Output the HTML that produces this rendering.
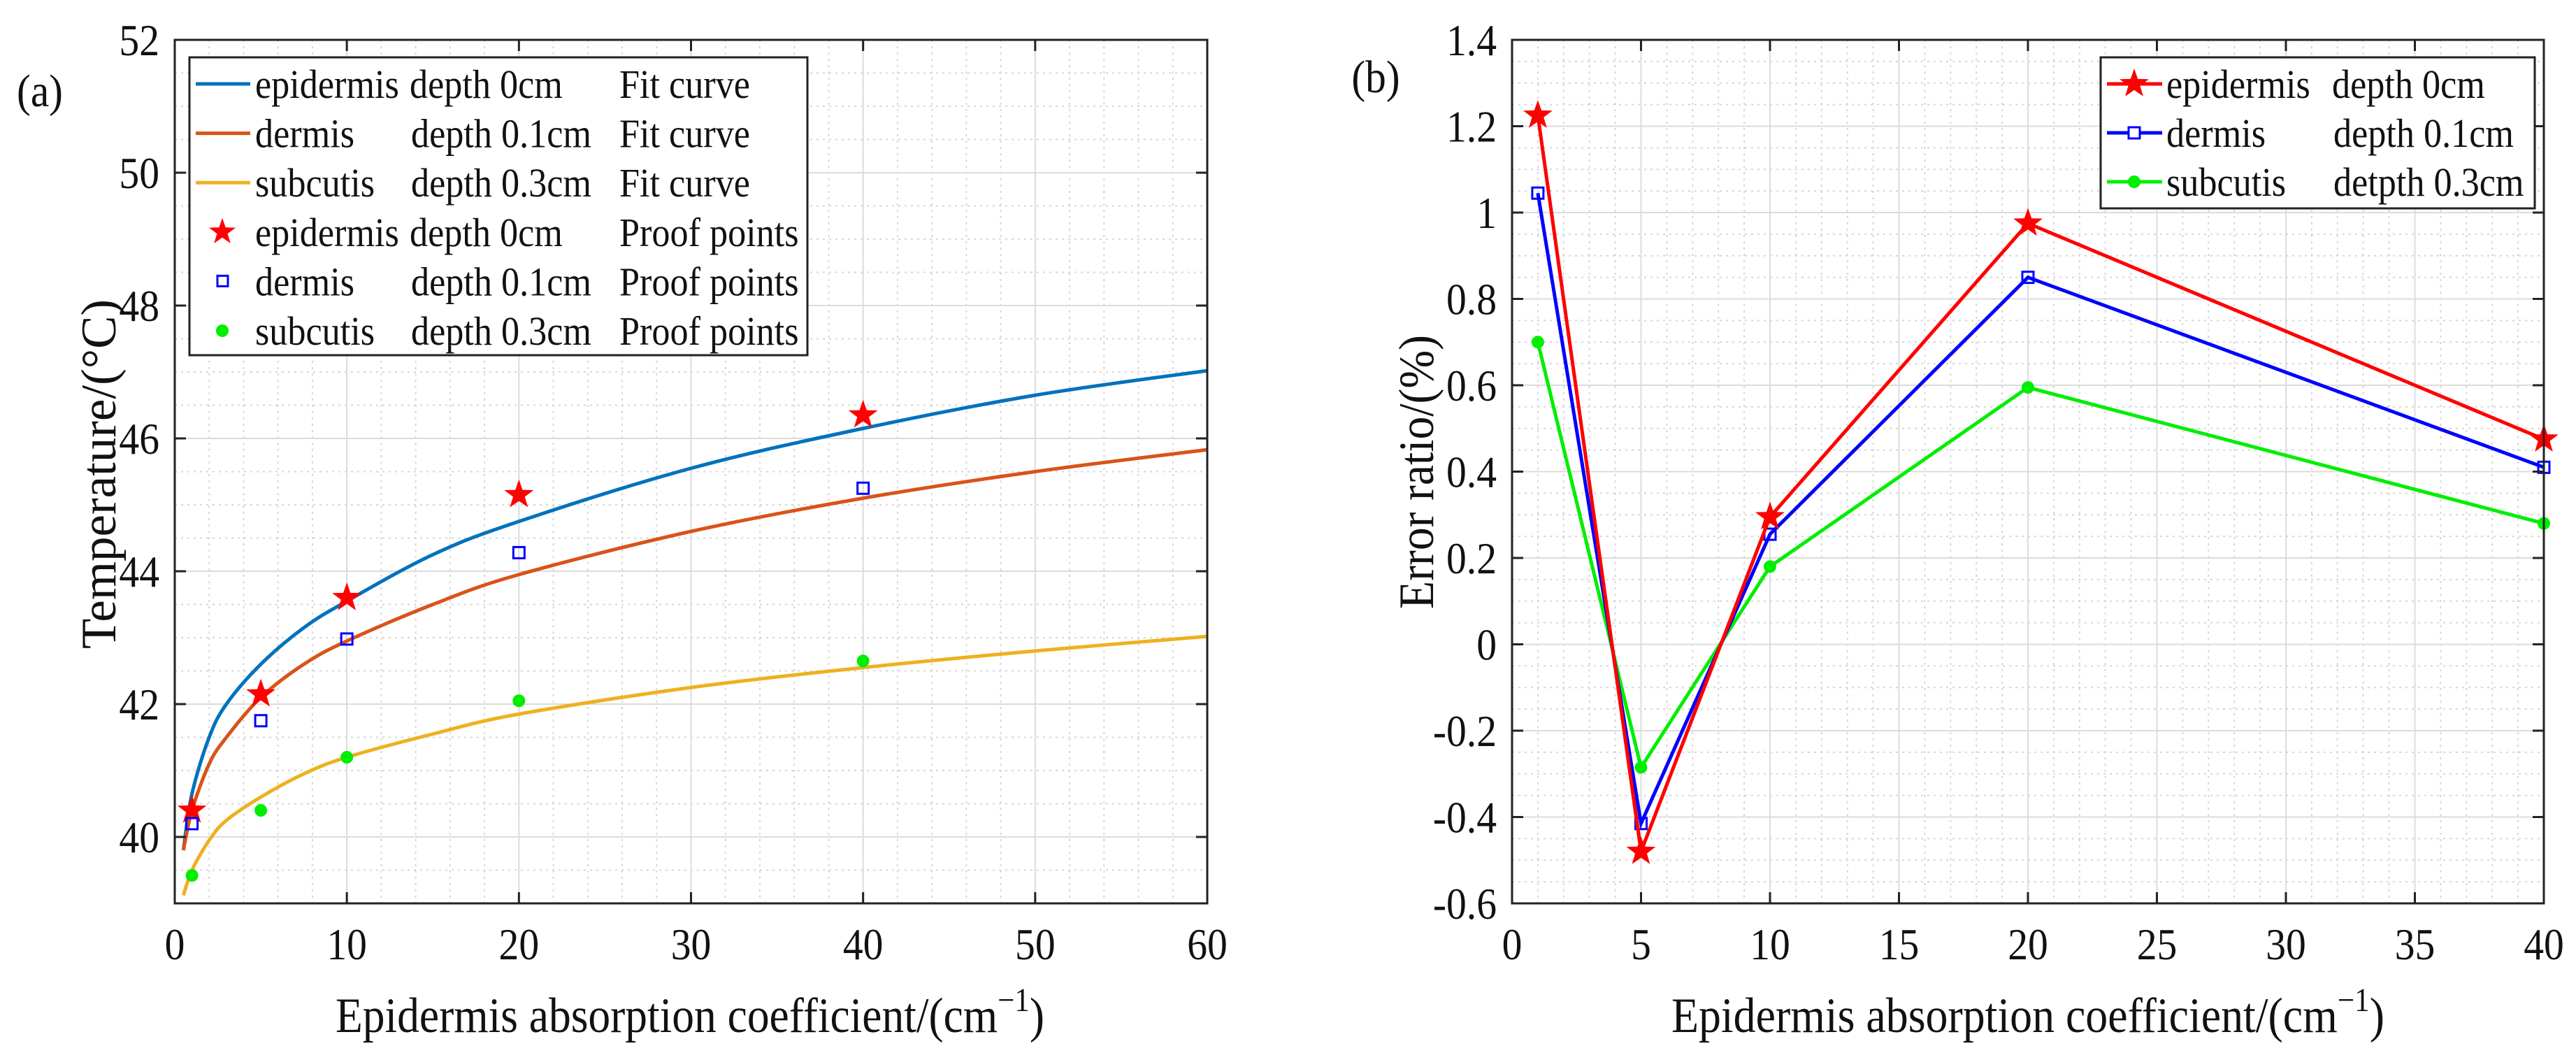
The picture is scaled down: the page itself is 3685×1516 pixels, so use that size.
<!DOCTYPE html>
<html><head><meta charset="utf-8"><style>
html,body{margin:0;padding:0;background:#fff;}
svg{display:block;}
text{font-family:"Liberation Serif","DejaVu Serif",serif;fill:#111;}
</style></head><body>
<svg id="fig" width="3685" height="1516" viewBox="0 0 3685 1516" xmlns="http://www.w3.org/2000/svg">
<g id="pa"></g>
<g id="pb"></g>
</svg>
<script>
// ---------- Panel (a) data ----------
const aFitX = [0.5, 1, 2, 3, 5, 7.5, 10, 15, 20, 30, 40, 50, 60];
const aFitEpi = [39.8, 40.65, 41.5, 42.0, 42.6, 43.15, 43.55, 44.25, 44.75, 45.55, 46.15, 46.65, 47.02];
const aFitDer = [39.8, 40.4, 41.1, 41.5, 42.1, 42.6, 42.95, 43.5, 43.95, 44.6, 45.1, 45.5, 45.83];
const aFitSub = [39.12, 39.5, 39.95, 40.25, 40.6, 40.95, 41.2, 41.55, 41.85, 42.25, 42.55, 42.8, 43.02];
const aPtX = [1, 5, 10, 20, 40];
const aPtEpi = [40.4, 42.15, 43.6, 45.15, 46.35];
const aPtDer = [40.2, 41.75, 42.98, 44.28, 45.25];
const aPtSub = [39.42, 40.4, 41.2, 42.05, 42.65];
const aXTicks = [0, 10, 20, 30, 40, 50, 60];
const aYTicks = [40, 42, 44, 46, 48, 50, 52];
// ---------- Panel (b) data ----------
const bX = [1, 5, 10, 20, 40];
const bEpi = [1.225, -0.48, 0.295, 0.975, 0.475];
const bDer = [1.045, -0.415, 0.255, 0.85, 0.41];
const bSub = [0.70, -0.285, 0.18, 0.595, 0.28];
const bXTicks = [0, 5, 10, 15, 20, 25, 30, 35, 40];
const bYTicks = [-0.6, -0.4, -0.2, 0, 0.2, 0.4, 0.6, 0.8, 1, 1.2, 1.4];

const NS = "http://www.w3.org/2000/svg";
function mk(parent, tag, attrs) {
  const e = document.createElementNS(NS, tag);
  for (const k in attrs) e.setAttribute(k, attrs[k]);
  parent.appendChild(e);
  return e;
}
function txt(parent, x, y, s, size, anchor, sx) {
  const g = mk(parent, "g", {transform: `translate(${x},${y}) scale(${sx||0.9},1)`});
  const t = mk(g, "text", {x: 0, y: 0, "font-size": size, "text-anchor": anchor || "start"});
  t.textContent = s;
  return t;
}
function starPts(cx, cy, R) {
  const r = R * 0.4; let p = [];
  for (let i = 0; i < 10; i++) {
    const a = -Math.PI / 2 + i * Math.PI / 5, rr = i % 2 ? r : R;
    p.push((cx + rr * Math.cos(a)).toFixed(1) + "," + (cy + rr * Math.sin(a)).toFixed(1));
  }
  return p.join(" ");
}
function smoothPath(pts) {
  let d = `M${pts[0][0]},${pts[0][1]}`;
  for (let i = 0; i < pts.length - 1; i++) {
    const p0 = pts[i - 1] || pts[i], p1 = pts[i], p2 = pts[i + 1], p3 = pts[i + 2] || p2;
    const c1 = [p1[0] + (p2[0] - p0[0]) / 6, p1[1] + (p2[1] - p0[1]) / 6];
    const c2 = [p2[0] - (p3[0] - p1[0]) / 6, p2[1] - (p3[1] - p1[1]) / 6];
    d += ` C${c1[0]},${c1[1]} ${c2[0]},${c2[1]} ${p2[0]},${p2[1]}`;
  }
  return d;
}
function axesFrame(g, L, R, T, B, xMin, xMax, yMin, yMax, xMinor, yMinor, xTicks, yTicks) {
  const X = v => L + (v - xMin) / (xMax - xMin) * (R - L);
  const Y = v => B - (v - yMin) / (yMax - yMin) * (B - T);
  const grid = mk(g, "g", {});
  
  
  for (let v = xMin; v <= xMax + 1e-9; v += xMinor)
    mk(grid, "line", {x1: X(v), x2: X(v), y1: T, y2: B, stroke: "#d6d6d6", "stroke-width": 2, "stroke-dasharray": "3,6"});
  for (let v = yMin; v <= yMax + 1e-9; v += yMinor)
    mk(grid, "line", {x1: L, x2: R, y1: Y(v), y2: Y(v), stroke: "#d6d6d6", "stroke-width": 2, "stroke-dasharray": "3,6"});
  xTicks.forEach(v => mk(grid, "line", {x1: X(v), x2: X(v), y1: T, y2: B, stroke: "#dcdcdc", "stroke-width": 2}));
  yTicks.forEach(v => mk(grid, "line", {x1: L, x2: R, y1: Y(v), y2: Y(v), stroke: "#dcdcdc", "stroke-width": 2}));
  return {X, Y};
}
function axesBox(g, L, R, T, B, X, Y, xTicks, yTicks, yFmt) {
  const ax = mk(g, "g", {});
  
  
  mk(ax, "rect", {x: L, y: T, width: R - L, height: B - T, fill: "none", stroke: "#222", "stroke-width": 3});
  xTicks.forEach(v => {
    mk(ax, "line", {x1: X(v), x2: X(v), y1: B, y2: B - 16, stroke: "#222", "stroke-width": 3});
    mk(ax, "line", {x1: X(v), x2: X(v), y1: T, y2: T + 16, stroke: "#222", "stroke-width": 3});
    const t = txt(ax, X(v), B + 80, String(v), 64, "middle");
    
    
  });
  yTicks.forEach(v => {
    mk(ax, "line", {x1: L, x2: L + 16, y1: Y(v), y2: Y(v), stroke: "#222", "stroke-width": 3});
    mk(ax, "line", {x1: R, x2: R - 16, y1: Y(v), y2: Y(v), stroke: "#222", "stroke-width": 3});
    const t = txt(ax, L - 22, Y(v) + 22, yFmt(v), 64, "end");
    
    
  });
}

// ================= Panel (a) =================
(function () {
  const g = document.getElementById("pa");
  const L = 250, R = 1727, T = 57, B = 1292;
  const {X, Y} = axesFrame(g, L, R, T, B, 0, 60, 39, 52, 2, 0.5, aXTicks, aYTicks);
  const fits = [[aFitEpi, "#0072BD", "fit-curve-epidermis"], [aFitDer, "#D95319", "fit-curve-dermis"], [aFitSub, "#EDB120", "fit-curve-subcutis"]];
  fits.forEach(([ys, c, n]) => {
    const p = mk(g, "path", {d: smoothPath(aFitX.map((x, i) => [X(x), Y(ys[i])])), fill: "none", stroke: c, "stroke-width": 5});
    
    
  });
  aPtX.forEach((x, i) => {
    const s = mk(g, "polygon", {points: starPts(X(x), Y(aPtEpi[i]), 22), fill: "#ff0000"});
    
    
    const q = mk(g, "rect", {x: X(x) - 8, y: Y(aPtDer[i]) - 8, width: 16, height: 16, fill: "none", stroke: "#0000ff", "stroke-width": 3});
    
    
    const c = mk(g, "circle", {cx: X(x), cy: Y(aPtSub[i]), r: 9, fill: "#00ee00"});
    
    
  });
  axesBox(g, L, R, T, B, X, Y, aXTicks, aYTicks, v => String(v));
  // legend
  const lg = mk(g, "g", {});
  
  
  mk(lg, "rect", {x: 271, y: 82, width: 884, height: 426, fill: "#fff", stroke: "#222", "stroke-width": 3});
  const rows = [
    ["line", "#0072BD", "epidermis", "depth 0cm", "Fit curve"],
    ["line", "#D95319", "dermis", "depth 0.1cm", "Fit curve"],
    ["line", "#EDB120", "subcutis", "depth 0.3cm", "Fit curve"],
    ["star", "#ff0000", "epidermis", "depth 0cm", "Proof points"],
    ["sq", "#0000ff", "dermis", "depth 0.1cm", "Proof points"],
    ["dot", "#00ee00", "subcutis", "depth 0.3cm", "Proof points"]];
  rows.forEach((r, i) => {
    const by = 140 + 70.6 * i, my = by - 20;
    const e = mk(lg, "g", {});
    
    
    if (r[0] === "line") mk(e, "line", {x1: 280, x2: 358, y1: my, y2: my, stroke: r[1], "stroke-width": 5});
    if (r[0] === "star") mk(e, "polygon", {points: starPts(318, my, 20), fill: r[1]});
    if (r[0] === "sq") mk(e, "rect", {x: 311, y: my - 8, width: 15, height: 15, fill: "none", stroke: r[1], "stroke-width": 3});
    if (r[0] === "dot") mk(e, "circle", {cx: 318, cy: my, r: 9, fill: r[1]});
    txt(e, 365, by, r[2], 58, "start");
    txt(e, r[2] === "epidermis" ? 586 : 588, by, r[3], 58, "start");
    txt(e, 886, by, r[4], 58, "start");
  });
  const pl = txt(g, 57, 152, "(a)", 66, "middle");
  
  
  const xt = mk(g, "text", {x: 480, y: 1476, "font-size": 71, textLength: 1014, lengthAdjust: "spacingAndGlyphs"});
  xt.innerHTML = 'Epidermis absorption coefficient/(cm<tspan dy="-30" font-size="48">−1</tspan><tspan dy="30">)</tspan>';
  
  
  const yt = mk(g, "text", {x: 0, y: 0, "font-size": 71, "text-anchor": "middle", transform: "translate(165,678) rotate(-90)", textLength: 500, lengthAdjust: "spacingAndGlyphs"});
  yt.textContent = "Temperature/(°C)";
  
  
})();

// ================= Panel (b) =================
(function () {
  const g = document.getElementById("pb");
  const L = 2163, R = 3639, T = 57, B = 1292;
  const {X, Y} = axesFrame(g, L, R, T, B, 0, 40, -0.6, 1.4, 1, 0.05, bXTicks, bYTicks);
  const series = [[bSub, "#00ee00", "dot", "series-subcutis"], [bDer, "#0000ff", "sq", "series-dermis"], [bEpi, "#ff0000", "star", "series-epidermis"]];
  series.forEach(([ys, c, m, n]) => {
    const sg = mk(g, "g", {});
    
    
    mk(sg, "polyline", {points: bX.map((x, i) => X(x) + "," + Y(ys[i])).join(" "), fill: "none", stroke: c, "stroke-width": 5});
    bX.forEach((x, i) => {
      if (m === "star") mk(sg, "polygon", {points: starPts(X(x), Y(ys[i]), 22), fill: c});
      if (m === "sq") mk(sg, "rect", {x: X(x) - 8, y: Y(ys[i]) - 8, width: 16, height: 16, fill: "none", stroke: c, "stroke-width": 3});
      if (m === "dot") mk(sg, "circle", {cx: X(x), cy: Y(ys[i]), r: 9, fill: c});
    });
  });
  axesBox(g, L, R, T, B, X, Y, bXTicks, bYTicks, v => String(Math.round(v * 10) / 10));
  const lg = mk(g, "g", {});
  
  
  mk(lg, "rect", {x: 3005, y: 82, width: 621, height: 216, fill: "#fff", stroke: "#222", "stroke-width": 3});
  const rows = [["star", "#ff0000", "epidermis", "depth 0cm"], ["sq", "#0000ff", "dermis", "depth 0.1cm"], ["dot", "#00ee00", "subcutis", "detpth 0.3cm"]];
  rows.forEach((r, i) => {
    const by = 140 + 70 * i, my = by - 20;
    const e = mk(lg, "g", {});
    
    
    mk(e, "line", {x1: 3014, x2: 3093, y1: my, y2: my, stroke: r[1], "stroke-width": 5});
    if (r[0] === "star") mk(e, "polygon", {points: starPts(3053, my, 22), fill: r[1]});
    if (r[0] === "sq") mk(e, "rect", {x: 3045, y: my - 8, width: 16, height: 16, fill: "#fff", stroke: r[1], "stroke-width": 3});
    if (r[0] === "dot") mk(e, "circle", {cx: 3053, cy: my, r: 9, fill: r[1]});
    txt(e, 3099, by, r[2], 58, "start");
    txt(e, i === 0 ? 3336 : 3338, by, r[3], 58, "start");
  });
  const pl = txt(g, 1968, 132, "(b)", 66, "middle");
  
  
  const xt = mk(g, "text", {x: 2391, y: 1476, "font-size": 71, textLength: 1020, lengthAdjust: "spacingAndGlyphs"});
  xt.innerHTML = 'Epidermis absorption coefficient/(cm<tspan dy="-30" font-size="48">−1</tspan><tspan dy="30">)</tspan>';
  
  
  const yt = mk(g, "text", {x: 0, y: 0, "font-size": 71, "text-anchor": "middle", transform: "translate(2050,675) rotate(-90)", textLength: 392, lengthAdjust: "spacingAndGlyphs"});
  yt.textContent = "Error ratio/(%)";
  
  
})();
</script>
</body></html>
